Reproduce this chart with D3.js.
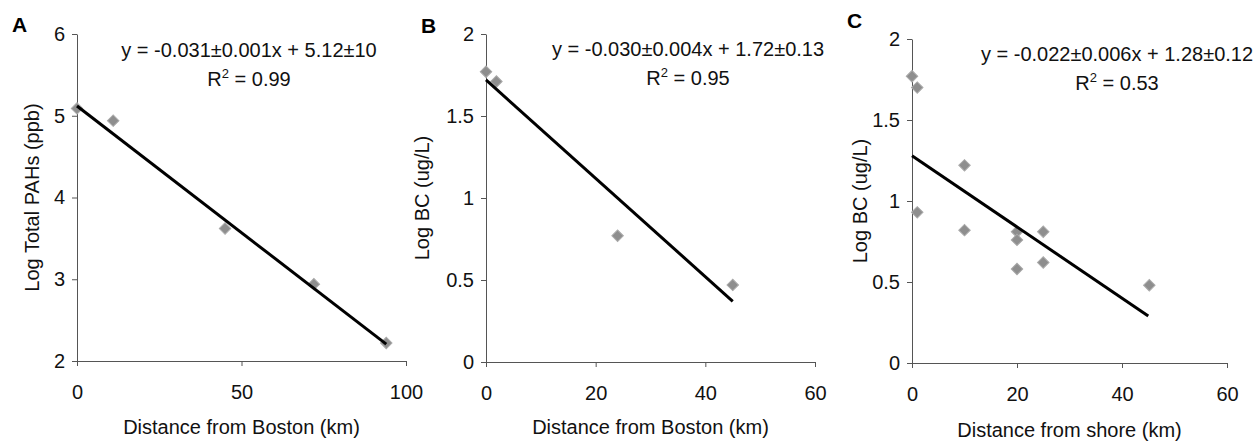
<!DOCTYPE html>
<html>
<head>
<meta charset="utf-8">
<script src="https://cdn.jsdelivr.net/npm/d3@7"></script>
<style>
  body { margin: 0; background: #fff; }
  svg { display: block; font-family: "Liberation Sans", Arial, sans-serif; }
</style>
</head>
<body>
<svg></svg>
<script>
const width = 1258
const height = 444
const svg = d3.select('svg')
  .attr('width', width)
  .attr('height', height)

// panel A: log total PAHs vs distance from Boston
const distA = [0, 11, 45, 72, 94]
const pahA = [5.09, 4.94, 3.62, 2.94, 2.22]
const fitA = [-0.031, 5.12, 0, 94]   // slope, intercept, x from, x to
const xTicksA = [0, 50, 100]
const yTicksA = [2, 3, 4, 5, 6]

// panel B: log BC vs distance from Boston
const distB = [0, 1.9, 24, 45]
const bcB = [1.77, 1.71, 0.77, 0.47]
const fitB = [-0.030, 1.72, 0, 45]
const xTicksB = [0, 20, 40, 60]
const yTicksB = [0, 0.5, 1, 1.5, 2]

// panel C: log BC vs distance from shore
const distC = [0, 1, 1, 10, 10, 20, 20, 20, 25, 25, 45.2]
const bcC = [1.77, 1.70, 0.93, 1.22, 0.82, 0.81, 0.76, 0.58, 0.81, 0.62, 0.48]
const fitC = [-0.022, 1.28, 0, 45]
const xTicksC = [0, 20, 40, 60]
const yTicksC = [0, 0.5, 1, 1.5, 2]

const eqs = ['y = -0.031\u00b10.001x + 5.12\u00b110', 'y = -0.030\u00b10.004x + 1.72\u00b10.13', 'y = -0.022\u00b10.006x + 1.28\u00b10.12']
const r2s = ['0.99', '0.95', '0.53']
const letters = ['A', 'B', 'C']
const xTitles = ['Distance from Boston (km)', 'Distance from Boston (km)', 'Distance from shore (km)']
const yTitles = ['Log Total PAHs (ppb)', 'Log BC (ug/L)', 'Log BC (ug/L)']

// layout of each panel (pixels)
const boxes = [
  {x0: 77, x1: 406, y0: 361, y1: 34, xmax: 100, ymin: 2, ymax: 6, eqX: 249, eqY: 57, letterX: 12, letterY: 32, ytOff: 45, xtY: 434},
  {x0: 486, x1: 815, y0: 362, y1: 34, xmax: 60, ymin: 0, ymax: 2, eqX: 688, eqY: 56, letterX: 421, letterY: 33, ytOff: 64, xtY: 434},
  {x0: 912, x1: 1227, y0: 363, y1: 39, xmax: 60, ymin: 0, ymax: 2, eqX: 1117, eqY: 61, letterX: 847, letterY: 28, ytOff: 52, xtY: 437}
]

const xs = [distA, distB, distC]
const ys = [pahA, bcB, bcC]
const fits = [fitA, fitB, fitC]
const xTicks = [xTicksA, xTicksB, xTicksC]
const yTicks = [yTicksA, yTicksB, yTicksC]

const diamond = d3.symbol().type(d3.symbolSquare).size(66)

boxes.forEach(function(b, i) {
  const x = d3.scaleLinear().domain([0, b.xmax]).range([b.x0, b.x1])
  const y = d3.scaleLinear().domain([b.ymin, b.ymax]).range([b.y0, b.y1])
  const g = svg.append('g')

  const xAxis = g.append('g')
    .attr('transform', 'translate(0,' + b.y0 + ')')
    .call(d3.axisBottom(x).tickValues(xTicks[i]).tickSize(5).tickSizeOuter(0).tickPadding(19).tickFormat(d3.format('')))
  const yAxis = g.append('g')
    .attr('transform', 'translate(' + b.x0 + ',0)')
    .call(d3.axisLeft(y).tickValues(yTicks[i]).tickSize(5).tickSizeOuter(0).tickPadding(7).tickFormat(d3.format('')))

  ;[xAxis, yAxis].forEach(function(a) {
    a.selectAll('path, line').attr('stroke', '#555').attr('stroke-width', 1)
    a.selectAll('text').attr('fill', '#111').style('font-size', '20px').style('font-family', '"Liberation Sans", Arial, sans-serif')
  })

  // points
  g.append('g')
    .selectAll('path')
    .data(d3.range(xs[i].length))
    .enter()
    .append('path')
    .attr('d', diamond)
    .attr('transform', function(k) { return 'translate(' + x(xs[i][k]) + ',' + y(ys[i][k]) + ') rotate(45)' })
    .attr('fill', '#8e8e8e')
    .attr('stroke', '#aaa')
    .attr('stroke-width', 1)

  // fitted line
  const f = fits[i]
  g.append('line')
    .attr('x1', x(f[2])).attr('y1', y(f[1] + f[0] * f[2]))
    .attr('x2', x(f[3])).attr('y2', y(f[1] + f[0] * f[3]))
    .attr('stroke', '#000')
    .attr('stroke-width', 3)

  // equation + R2
  g.append('text')
    .attr('x', b.eqX).attr('y', b.eqY)
    .attr('text-anchor', 'middle')
    .attr('fill', '#111')
    .style('font-size', '20px')
    .text(eqs[i])
  const r = g.append('text')
    .attr('x', b.eqX).attr('y', b.eqY + 29)
    .attr('text-anchor', 'middle')
    .attr('fill', '#111')
    .style('font-size', '20px')
  r.append('tspan').text('R')
  r.append('tspan').attr('dy', -8).style('font-size', '13px').text('2')
  r.append('tspan').attr('dy', 8).text(' = ' + r2s[i])

  // panel letter
  g.append('text')
    .attr('x', b.letterX).attr('y', b.letterY)
    .style('font-size', '21px')
    .style('font-weight', 'bold')
    .text(letters[i])

  // axis titles
  g.append('text')
    .attr('x', (b.x0 + b.x1) / 2).attr('y', b.xtY)
    .attr('text-anchor', 'middle')
    .attr('fill', '#111')
    .style('font-size', '20px')
    .text(xTitles[i])
  g.append('text')
    .attr('transform', 'translate(' + (b.x0 - b.ytOff) + ',' + (b.y0 + b.y1) / 2 + ') rotate(-90)')
    .attr('text-anchor', 'middle')
    .attr('dy', '0.35em')
    .attr('fill', '#111')
    .style('font-size', '20px')
    .text(yTitles[i])
})
</script>
</body>
</html>
